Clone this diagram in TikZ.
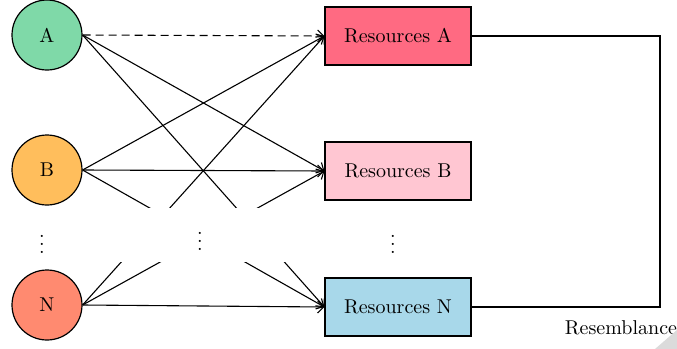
\documentclass[tikz,border=0pt]{standalone}
\usepackage{amsmath}
\usetikzlibrary{arrows.meta}

\definecolor{usrA}{RGB}{127,217,168}
\definecolor{usrB}{RGB}{255,190,92}
\definecolor{usrN}{RGB}{255,138,112}
\definecolor{resA}{RGB}{255,106,130}
\definecolor{resB}{RGB}{255,198,210}
\definecolor{resN}{RGB}{168,216,234}

\tikzset{
  user/.style={circle, draw, line width=0.6pt, minimum size=35pt, inner sep=0pt},
  resource/.style={rectangle, draw, line width=0.6pt, minimum width=73pt, minimum height=29pt},
  link/.style={-{Straight Barb[length=3pt,width=6pt]}, line width=0.55pt}
}

\begin{document}
\begin{tikzpicture}[x=0.5pt, y=-0.5pt, every node/.style={font=\normalsize}]
\useasboundingbox (0,0) rectangle (677,349);
% users
\node[user, fill=usrA] (ua) at (47,35) {A};
\node[user, fill=usrB] (ub) at (47,170) {B};
\node[user, fill=usrN] (un) at (47,305) {N};
% resources
\node[resource, fill=resA] (ra) at (398,36) {Resources A};
\node[resource, fill=resB] (rb) at (398,171) {Resources B};
\node[resource, fill=resN] (rn) at (398,307) {Resources N};
% all links
\draw[link, dash pattern=on 4pt off 2.5pt] (ua.east) -- (ra.west);
\draw[link] (ua.east) -- (rb.west);
\draw[link] (ua.east) -- (rn.west);
\draw[link] (ub.east) -- (ra.west);
\draw[link] (ub.east) -- (rb.west);
\draw[link] (ub.east) -- (rn.west);
\draw[link] (un.east) -- (ra.west);
\draw[link] (un.east) -- (rb.west);
\draw[link] (un.east) -- (rn.west);
% blank band with the dots
\node[fill=white, minimum width=105pt, minimum height=27pt, inner sep=0pt] (gap) at (200,235) {$\vdots$};
\node (du) at (42,238) {$\vdots$};
\node (dr) at (393,238) {$\vdots$};
% feedback
\coordinate (fa) at (660,36);
\coordinate (fn) at (660,307);
\draw[line width=0.55pt] (ra.east) -- (fa) -- (fn) -- (rn.east);
\node (rs) at (621,328) {Resemblance};
% corner
\fill[black!14] (655,349) -- (677,330) -- (677,349) -- cycle;
\end{tikzpicture}
\end{document}
